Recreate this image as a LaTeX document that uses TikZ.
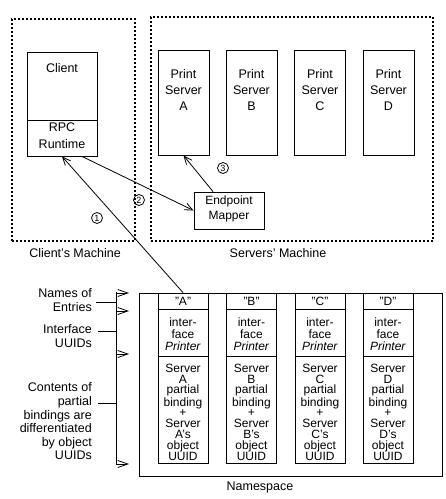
\documentclass[tikz,border=0pt]{standalone}
\usepackage{fontspec}
\setmainfont{Liberation Sans}
\usetikzlibrary{arrows.meta}
\begin{document}
\begin{tikzpicture}[x=1pt,y=-1pt,
  box/.style={draw,line width=0.9pt,inner sep=0pt},
  txt/.style={inner sep=0pt,align=center,font=\fontsize{12.5}{16}\selectfont},
  nstxt/.style={inner sep=0pt,align=center,font=\fontsize{12}{10.8}\selectfont},
  lbl/.style={inner sep=0pt,align=right,anchor=east,font=\fontsize{12.5}{13.6}\selectfont},
  mach/.style={draw,line width=1.8pt,dash pattern=on 1.8pt off 2.2pt,inner sep=0pt},
  arr/.style={-{Straight Barb[length=8pt,width=7pt]},line width=0.8pt},
  brarr/.style={-{Straight Barb[length=10pt,width=7pt]},line width=0.8pt},
  num/.style={circle,draw,line width=0.8pt,inner sep=0pt,minimum size=11pt,font=\fontsize{9}{9}\selectfont}]
\useasboundingbox (0,0) rectangle (446,499);
% machines
\node[mach,minimum width=123pt,minimum height=222pt] (cm) at (73.5,130) {};
\node[mach,minimum width=282pt,minimum height=224pt] (sm) at (292,129) {};
\node[txt] (cml) at (75,253) {Client's Machine};
\node[txt] (sml) at (278,253) {Servers' Machine};
% client
\node[box,minimum width=70pt,minimum height=68pt] (client) at (62,86) {};
\node[box,minimum width=70pt,minimum height=36pt] (rpc) at (62,138) {};
\node[txt] (clientt) at (62,68.2) {Client};
\node[txt,font=\fontsize{12.5}{16.6}\selectfont] (rpct) at (62,135.6) {RPC\\Runtime};
% servers
\foreach \n/\x in {A/183.5,B/251.5,C/320,D/388.5}{
  \node[box,minimum width=51pt,minimum height=105pt] (s\n) at (\x,102.5) {};
  \node[txt] (s\n t) at (\x,89.8) {Print\\Server\\\n};
}
% mapper
\node[box,minimum width=70pt,minimum height=37pt] (mapper) at (229,210.5) {};
\node[txt,font=\fontsize{12}{15}\selectfont] (mappert) at (229,208.6) {Endpoint\\Mapper};
% namespace
\node[box,minimum width=303pt,minimum height=183pt] (ns) at (290.5,384.5) {};
\node[txt] (nsl) at (260,487) {Namespace};
\foreach \n/\x in {A/183,B/251.5,C/320,D/388}{
  \node[box,minimum width=50pt,minimum height=16pt] (n\n) at (\x,301) {};
  \node[nstxt] (n\n t) at (\x,301) {"\n"};
  \node[box,minimum width=50pt,minimum height=47pt] (i\n) at (\x,332.5) {};
  \node[inner sep=0pt,align=center,font=\fontsize{12}{12}\selectfont] (i\n t) at (\x,334) {inter-\\face\\\textit{Printer}};
  \node[box,minimum width=50pt,minimum height=107pt] (b\n) at (\x,409.5) {};
  \node[nstxt] (b\n t) at (\x,412) {Server\\\n\\partial\\binding\\+\\Server\\\n's\\object\\UUID};
}
% left labels
\node[lbl] (l1) at (92,300) {Names of\\Entries};
\node[lbl] (l2) at (92,336) {Interface\\UUIDs};
\node[lbl] (l3) at (92,421.5) {Contents of\\partial\\bindings are\\differentiated\\by object\\UUIDs};
% bracket
\coordinate (bt) at (116,292);
\coordinate (bb) at (116,465);
\draw[line width=0.8pt] (bt) -- (bb);
\foreach \y/\k in {293/1,311/2,354/3,464/4}{
  \coordinate (ba\k) at (116,\y);
  \coordinate (be\k) at (129,\y);
  \draw[brarr] (ba\k) -- (be\k);
}
\coordinate (t1a) at (96,302); \coordinate (t1b) at (116,302);
\coordinate (t2a) at (98,331); \coordinate (t2b) at (116,331);
\coordinate (t3a) at (98,403); \coordinate (t3b) at (116,403);
\draw[line width=0.8pt] (t1a) -- (t1b) (t2a) -- (t2b) (t3a) -- (t3b);
% arrows
\draw[arr] (nA.north) -- (rpc.south);
\draw[arr] ([xshift=20pt]rpc.south) -- (mapper.west);
\draw[arr] ([xshift=-16pt]mapper.north) -- (sA.south);
\node[num] (c1) at (97,218) {1};
\node[num] (c2) at (139,200) {2};
\node[num] (c3) at (223,168) {3};
\end{tikzpicture}
\end{document}
